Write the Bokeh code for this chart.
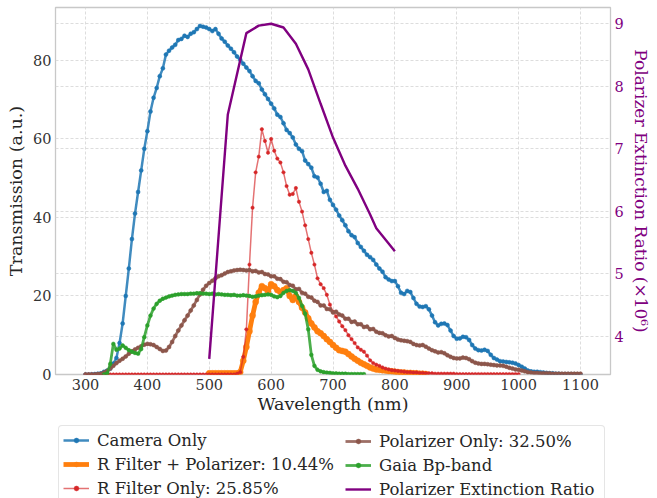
from bokeh.plotting import figure
from bokeh.layouts import column
from bokeh.models import (Range1d, LinearAxis, Grid, Legend, LegendItem,
                          SingleIntervalTicker, ColumnDataSource)
from bokeh.embed import file_html
from bokeh.resources import INLINE

FONT = "DejaVu Serif"

# ---------------- data (5 nm sampling) ----------------
camera_start = 300
camera = [
    0.0, 0.0, 0.05, 0.1, 0.2, 0.3, 0.7, 1.0, 1.5, 2.8,
    4.2, 8.0, 13.0, 20.0, 27.0, 34.5, 41.0, 46.5, 52.0, 57.5,
    62.0, 67.0, 70.5, 73.0, 76.0, 78.0, 81.5, 82.5, 83.3, 84.0,
    85.2, 85.5, 86.3, 86.0, 86.8, 87.2, 88.0, 88.8, 88.6, 88.4,
    88.0, 87.5, 88.0, 86.8, 85.6, 84.8, 83.8, 83.0, 82.1, 81.0,
    80.2, 79.2, 78.2, 77.3, 76.0, 74.8, 74.2, 72.6, 71.4, 70.2,
    69.0, 67.8, 66.2, 65.6, 64.0, 62.3, 61.5, 60.4, 58.6, 57.5,
    56.9, 54.5, 53.6, 52.7, 50.5, 50.2, 48.6, 46.5, 46.8, 44.5,
    43.2, 42.0, 40.5, 39.3, 38.0, 36.5, 35.5, 35.0, 33.5, 32.5,
    31.5, 30.5, 29.9, 29.2, 28.0, 27.0, 26.2, 24.8, 24.2, 23.8,
    23.8, 22.5, 20.8, 20.5, 21.3, 21.0, 19.5, 18.0, 17.3, 17.2,
    17.4, 16.6, 15.0, 13.3, 12.5, 12.9, 13.0, 12.6, 11.2, 9.8,
    9.1, 9.2, 9.6, 9.5, 8.8, 7.5, 6.6, 6.2, 6.1, 6.3,
    6.0, 5.0, 4.2, 3.8, 3.4, 3.3, 3.2, 3.1, 3.0, 2.8,
    2.4, 2.0, 1.5, 1.0, 0.8, 0.7, 0.7, 0.6, 0.5, 0.4,
    0.3, 0.3, 0.2, 0.2, 0.1, 0.1, 0.1, 0.1, 0.1, 0.05,
    0.0,
]

rpol_start = 500
r_plus_pol = [
    0.3, 0.3, 0.3, 0.3, 0.3, 0.3, 0.3, 0.3, 0.3, 0.3,
    0.6, 3.5, 7.0, 11.0, 15.0, 18.5, 20.8, 22.5, 22.0, 21.2,
    23.0, 22.5, 21.5, 21.0, 21.5, 22.0, 20.0, 19.0, 20.0, 18.5,
    17.0, 15.8, 14.3, 13.0, 12.0, 11.0, 10.5, 9.8, 9.0, 8.3,
    7.5, 6.8, 6.2, 6.0, 5.8, 5.2, 4.6, 4.0, 3.5, 3.0,
    2.6, 2.2, 1.8, 1.5, 1.3, 1.2, 1.1, 1.0, 0.9, 0.8,
    0.7, 0.6, 0.5, 0.5, 0.4, 0.4, 0.3, 0.3, 0.2, 0.2,
    0.1,
]

rfilt_start = 300
r_filter = [
    0.0, 0.0, 0.0, 0.0, 0.0, 0.0, 0.0, 0.0, 0.0, 0.0,
    0.0, 0.0, 0.0, 0.0, 0.0, 0.0, 0.0, 0.0, 0.0, 0.0,
    0.0, 0.0, 0.0, 0.0, 0.0, 0.0, 0.0, 0.0, 0.0, 0.0,
    0.0, 0.0, 0.0, 0.0, 0.0, 0.0, 0.0, 0.0, 0.0, 0.0,
    0.0, 0.0, 0.0, 0.0, 0.0, 0.0, 0.0, 0.0, 0.0, 0.2,
    0.6, 4.5, 11.5, 28.0, 42.5, 51.5, 55.5, 62.5, 59.5, 56.5,
    60.0, 57.0, 55.0, 54.0, 51.5, 48.0, 45.8, 46.0, 47.5, 44.0,
    41.5, 38.0, 34.5, 31.0, 28.0, 24.5, 23.0, 22.0, 20.3, 17.8,
    16.0, 14.8, 13.5, 12.3, 11.3, 10.0, 9.0, 8.0, 6.9, 6.3,
    5.8, 4.8, 3.6, 2.9, 2.5, 2.2, 1.8, 1.5, 1.3, 1.1,
    1.0, 0.9, 0.8, 0.7, 0.6, 0.6, 0.5, 0.5, 0.4, 0.4,
    0.3, 0.3, 0.3, 0.2, 0.2, 0.2, 0.2, 0.2, 0.2, 0.2,
    0.1, 0.1, 0.1, 0.1, 0.1, 0.1, 0.1, 0.1, 0.1, 0.1,
    0.1, 0.1, 0.1, 0.1, 0.1, 0.1, 0.1, 0.1, 0.1, 0.1,
    0.1,
]

pol_start = 300
pol_only = [
    0.0, 0.0, 0.0, 0.0, 0.1, 0.2, 0.5, 0.9, 1.5, 2.2,
    2.9, 3.5, 4.0, 4.6, 5.3, 5.9, 6.4, 6.8, 7.2, 7.6,
    7.8, 7.7, 7.5, 7.0, 6.5, 6.0, 6.1, 7.0, 8.3, 9.8,
    11.2, 12.5, 13.8, 15.0, 16.3, 17.6, 19.0, 20.4, 21.6, 22.6,
    23.3, 23.9, 24.5, 25.0, 25.3, 25.7, 26.1, 26.3, 26.5, 26.6,
    26.7, 26.6, 26.5, 26.6, 26.3, 26.4, 26.0, 26.1, 25.6, 25.5,
    25.0, 25.0, 24.4, 24.3, 23.6, 23.5, 22.8, 22.6, 21.7, 21.8,
    20.8, 20.6, 19.8, 19.6, 18.8, 18.5, 17.6, 17.6, 16.7, 16.6,
    15.8, 16.0, 15.3, 15.0, 14.2, 14.2, 13.4, 13.5, 12.8, 12.8,
    12.1, 12.2, 11.5, 11.6, 10.9, 10.6, 10.5, 10.0, 9.7, 9.8,
    9.3, 8.9, 8.7, 8.6, 8.5, 8.3, 7.8, 7.5, 7.4, 7.5,
    7.1, 6.6, 6.2, 5.9, 5.6, 5.7, 5.4, 4.9, 4.5, 4.2,
    4.1, 4.1, 4.3, 4.2, 3.9, 3.4, 3.0, 2.8, 2.7, 2.7,
    2.6, 2.5, 2.4, 2.3, 2.3, 2.2, 2.0, 1.7, 1.5, 1.3,
    1.2, 1.0, 0.8, 0.6, 0.5, 0.4, 0.4, 0.3, 0.3, 0.3,
    0.3, 0.2, 0.2, 0.2, 0.2, 0.2, 0.2, 0.2, 0.2, 0.2,
    0.2,
]

gaia_start = 330
gaia_bp = [
    0.0, 0.3, 2.7, 7.8, 6.3, 6.6, 7.4, 6.8, 6.2, 5.8,
    5.5, 5.3, 6.5, 9.5, 12.5, 15.0, 16.8, 18.0, 18.8, 19.3,
    19.6, 19.9, 20.1, 20.3, 20.4, 20.5, 20.5, 20.5, 20.6, 20.6,
    20.7, 20.7, 20.6, 20.6, 20.5, 20.6, 20.4, 20.5, 20.4, 20.3,
    20.3, 20.2, 20.3, 20.1, 20.1, 20.2, 20.1, 20.0, 19.8, 19.9,
    20.1, 20.2, 20.3, 20.4, 20.3, 19.9, 19.7, 20.0, 20.8, 21.3,
    21.5, 21.3, 20.8, 19.5, 17.5, 15.5, 11.5, 5.0, 2.2, 1.2,
    0.8, 0.6, 0.5, 0.4, 0.3, 0.3, 0.2, 0.2, 0.2, 0.1,
    0.1, 0.1, 0.1, 0.1, 0.1,
]

ext_wl = [500, 530, 560, 580, 600, 620, 640, 660, 680, 700, 720, 740, 760, 770, 800]
ext_ratio = [3.64, 7.55, 8.85, 8.97, 9.0, 8.94, 8.68, 8.27, 7.72, 7.18, 6.73, 6.36, 5.95, 5.73, 5.36]

x_ticks_step = 100
y_ticks_step = 20
r_ticks_step = 1

labels = [
    "Camera Only",
    "R Filter + Polarizer: 10.44%",
    "R Filter Only: 25.85%",
    "Polarizer Only: 32.50%",
    "Gaia Bp-band",
    "Polarizer Extinction Ratio",
]
right_label = "Polarizer Extinction Ratio (×10⁶)"

# styles: (color, line width, marker size, line alpha)
STYLES = [
    ("#1f77b4", 2.5, 4.0, 0.85),
    ("#ff7f0e", 4.8, 6.0, 1.0),
    ("#d62728", 1.5, 3.4, 0.65),
    ("#8c564b", 2.8, 4.0, 0.85),
    ("#2ca02c", 2.8, 3.8, 0.85),
]
EXT_COLOR = "purple"


def wl(start, vals):
    return list(range(start, start + 5 * len(vals), 5))


# ---------------- main figure ----------------
p = figure(width=657, height=424,
           x_range=Range1d(251.5, 1148.5), y_range=Range1d(0, 93.5),
           output_backend="svg", toolbar_location=None,
           min_border_left=55, min_border_right=47,
           min_border_top=7, min_border_bottom=50,
           background_fill_color="white", border_fill_color="white")
p.extra_y_ranges = {"ext": Range1d(3.39, 9.26)}

p.outline_line_color = "#c8c8c8"
p.outline_line_width = 1.3

GRID_COLOR = "#d9d9d9"
GRID_DASH = "3 2"

xt = SingleIntervalTicker(interval=x_ticks_step)
yt = SingleIntervalTicker(interval=y_ticks_step)
rt = SingleIntervalTicker(interval=r_ticks_step)

xaxis = p.xaxis[0]
yaxis = p.yaxis[0]
xaxis.ticker = xt
yaxis.ticker = yt
xaxis.axis_label = "Wavelength (nm)"
yaxis.axis_label = "Transmission (a.u.)"

p.xgrid.ticker = xt
p.ygrid.ticker = yt
for g in (p.xgrid, p.ygrid):
    g.grid_line_color = GRID_COLOR
    g.grid_line_dash = GRID_DASH
    g.grid_line_width = 0.9

rgrid = Grid(dimension=1, ticker=rt, y_range_name="ext",
             grid_line_color=GRID_COLOR, grid_line_dash=GRID_DASH,
             grid_line_width=0.9)
p.add_layout(rgrid)

raxis = LinearAxis(y_range_name="ext", ticker=rt, axis_label=right_label)
p.add_layout(raxis, "right")

for ax in (xaxis, yaxis, raxis):
    ax.axis_line_color = None
    ax.major_tick_line_color = None
    ax.minor_tick_line_color = None
    ax.major_tick_out = 0
    ax.minor_tick_out = 0
    ax.major_label_text_font = FONT
    ax.major_label_text_font_size = "14.5px"
    ax.major_label_text_color = "#333333"
    ax.axis_label_text_font = FONT
    ax.axis_label_text_font_size = "17.5px"
    ax.axis_label_text_font_style = "normal"
    ax.axis_label_text_color = "#262626"
    ax.major_label_standoff = 4
    ax.axis_label_standoff = 4

xaxis.axis_label_standoff = 1
raxis.major_label_text_color = EXT_COLOR
raxis.axis_label_text_color = EXT_COLOR
raxis.axis_label_text_font_size = "17px"


def dotted_line(fig, xs, ys, style):
    color, lw, size, alpha = style
    src = ColumnDataSource(dict(x=xs, y=ys))
    ln = fig.line("x", "y", source=src, line_color=color, line_width=lw,
                  line_alpha=alpha)
    sc = fig.scatter("x", "y", source=src, marker="circle", size=size,
                     fill_color=color, line_color=color, line_width=0.5)
    return [ln, sc]


series = [
    (camera_start, camera),
    (rpol_start, r_plus_pol),
    (rfilt_start, r_filter),
    (pol_start, pol_only),
    (gaia_start, gaia_bp),
]
for (start, vals), st in zip(series, STYLES):
    dotted_line(p, wl(start, vals), vals, st)
p.line(ext_wl, ext_ratio, y_range_name="ext", line_color=EXT_COLOR,
       line_width=2.4)

# ---------------- legend strip ----------------
pl = figure(width=657, height=74, output_backend="svg", toolbar_location=None,
            x_range=Range1d(0, 1), y_range=Range1d(0, 1),
            x_axis_type=None, y_axis_type=None,
            min_border_left=55, min_border_right=47,
            min_border_top=0, min_border_bottom=0,
            outline_line_color=None,
            background_fill_color="white", border_fill_color="white")
pl.grid.visible = False

# legend keys: same styles, one sample placed outside the strip's visible range
key_x = [-1.0]
key_y = [-1.0]
keys = [dotted_line(pl, key_x, key_y, st) for st in STYLES]
keys.append([pl.line(key_x, key_y, line_color=EXT_COLOR, line_width=2.4)])

common = dict(label_text_font=FONT, label_text_font_size="16.5px",
              label_text_color="#262626", padding=4, spacing=4,
              glyph_width=26, glyph_height=12, label_height=20,
              label_standoff=8, margin=0)

leg1 = Legend(items=[LegendItem(label=labels[i], renderers=keys[i]) for i in range(3)],
              location=(3, -5), label_width=503,
              border_line_color="#cccccc", border_line_width=1,
              border_radius=4,
              background_fill_color="white", background_fill_alpha=1.0,
              **common)
leg2 = Legend(items=[LegendItem(label=labels[i], renderers=keys[i]) for i in range(3, 6)],
              location=(290, -1),
              border_line_color=None, background_fill_alpha=0.0,
              **common)
pl.add_layout(leg1, "center")
pl.add_layout(leg2, "center")

layout = column(p, pl, spacing=0)
open("out.html", "w").write(file_html(layout, INLINE))
